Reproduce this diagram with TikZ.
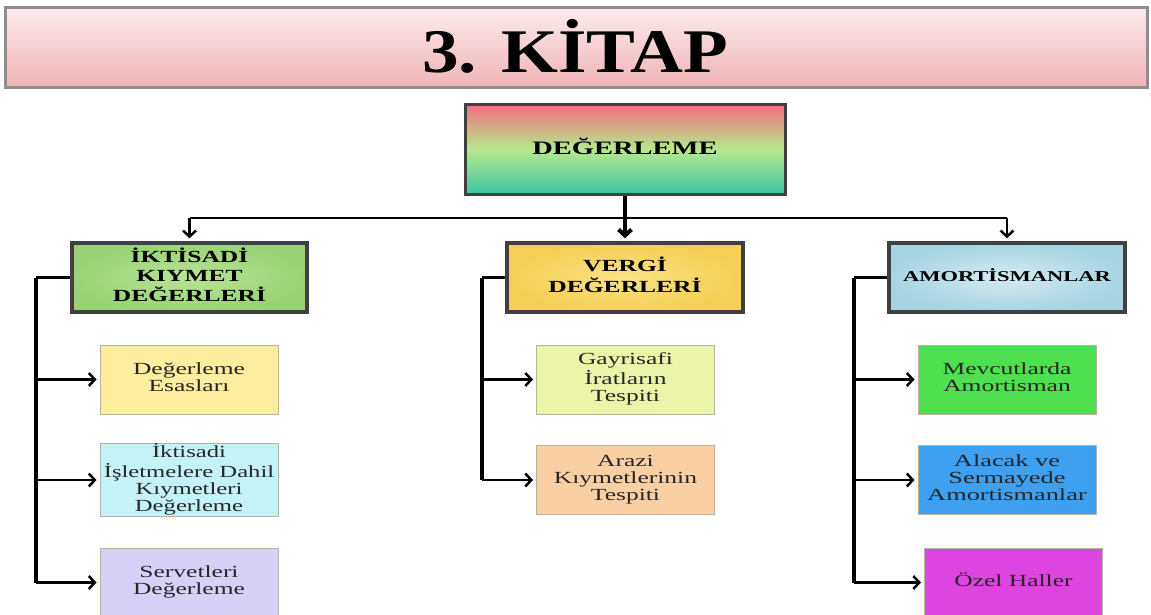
\documentclass[tikz,border=0pt]{standalone}
\usepackage{fontspec}
\usepackage{graphicx}
\setmainfont{Liberation Serif}
\usetikzlibrary{arrows.meta}
\newcommand\wide[2][1.5]{\scalebox{#1}[1]{\begin{tabular}{@{}c@{}}#2\end{tabular}}}
\definecolor{titletop}{HTML}{FDEAEC}
\definecolor{titlebot}{HTML}{EFB3B7}
\definecolor{titleline}{HTML}{8E8E8E}
\definecolor{degtop}{HTML}{F26E7E}
\definecolor{degmid}{HTML}{B6E98F}
\definecolor{degbot}{HTML}{3CC4A4}
\definecolor{iktin}{HTML}{B8E398}
\definecolor{iktout}{HTML}{98D474}
\definecolor{vergiin}{HTML}{FBE283}
\definecolor{vergiout}{HTML}{F5CF55}
\definecolor{amortin}{HTML}{D3ECF0}
\definecolor{amortout}{HTML}{A6D4E2}
\definecolor{kidline}{HTML}{B4B4A0}
\definecolor{esascol}{HTML}{FDED9E}
\definecolor{isletcol}{HTML}{C4F3F7}
\definecolor{servetcol}{HTML}{D8D1F7}
\definecolor{gayricol}{HTML}{EAF5A9}
\definecolor{arazicol}{HTML}{FBCFA4}
\definecolor{mevcutcol}{HTML}{4EE04E}
\definecolor{alacakcol}{HTML}{3DA0F0}
\definecolor{ozelcol}{HTML}{DD44E0}

\begin{document}
\begin{tikzpicture}[x=1pt,y=-1pt,
    kid/.style={draw=kidline, line width=1pt, inner sep=0pt, minimum width=178pt, minimum height=69pt,
      align=center, text=black!85, font=\fontsize{17}{17}\selectfont},
    head/.style={draw=black!75, line width=3.5pt, inner sep=0pt, minimum width=236pt, minimum height=69pt,
      align=center, font=\bfseries\fontsize{17}{18.5}\selectfont},
    conn/.style={line width=2.5pt, -{Straight Barb[length=6pt,width=13pt]}, shorten >=3pt},
    spine/.style={line width=4pt}]
  \useasboundingbox (0,0) rectangle (1151,615);
  \fill[white] (0,0) rectangle (1151,615);

  \node (titlebox) [draw=titleline, line width=3pt, top color=titletop, bottom color=titlebot,
    minimum width=1142pt, minimum height=80pt, inner sep=0pt] at (576,48) {};
  \node (title) [anchor=base, inner sep=0pt, font=\bfseries\fontsize{62}{62}\selectfont] at (575,73)
    {\scalebox{1.18}[1]{3. KİTAP}};

  \node (deg) [draw=black!75, line width=3pt, top color=degtop, bottom color=degbot, middle color=degmid,
    minimum width=320pt, minimum height=90pt, inner sep=0pt,
    font=\bfseries\fontsize{19}{20}\selectfont] at (625,149.5) {\wide{DEĞERLEME}};

  \node (ikt) [head, inner color=iktin, outer color=iktout, minimum width=235pt] at (189.5,277.5)
    {\wide{İKTİSADİ\\KIYMET\\DEĞERLERİ}};
  \node (vergi) [head, inner color=vergiin, outer color=vergiout] at (625,277.5) {\wide{VERGİ\\DEĞERLERİ}};
  \node (amort) [head, inner color=amortin, outer color=amortout,
    font=\bfseries\fontsize{15}{17}\selectfont] at (1007,277.5) {\wide{AMORTİSMANLAR}};

  \node (esas) [kid, fill=esascol] at (189,379.5) {\wide{Değerleme\\Esasları}};
  \node (islet) [kid, fill=isletcol] at (189,480) {\wide[1.45]{İktisadi\\İşletmelere Dahil\\Kıymetleri\\Değerleme}};
  \node (servet) [kid, fill=servetcol] at (189,582.5) {\wide{Servetleri\\Değerleme}};
  \node (gayri) [kid, fill=gayricol] at (625.5,379.5) {\wide{Gayrisafi\\İratların\\Tespiti}};
  \node (arazi) [kid, fill=arazicol] at (625.5,480) {\wide{Arazi\\Kıymetlerinin\\Tespiti}};
  \node (mevcut) [kid, fill=mevcutcol] at (1007,379.5) {\wide{Mevcutlarda\\Amortisman}};
  \node (alacak) [kid, fill=alacakcol] at (1007,480) {\wide[1.55]{Alacak ve\\Sermayede\\Amortismanlar}};
  \node (ozel) [kid, fill=ozelcol] at (1013.5,582.5) {\wide{Özel Haller}};

  \coordinate (bus) at (625,218);
  \coordinate (lsp) at (36,0);
  \coordinate (msp) at (482,0);
  \coordinate (rsp) at (854,0);

  \draw[line width=2.5pt] (bus -| ikt.north) -- (bus -| amort.north);
  \draw[conn, line width=4pt] (deg.south) -- (vergi.north);
  \draw[conn] (bus -| ikt.north) -- (ikt.north);
  \draw[conn] (bus -| amort.north) -- (amort.north);

  \draw[line width=3pt] (ikt.west) -- (ikt.west -| lsp);
  \draw[spine] (ikt.west -| lsp) -- (lsp |- servet.west);
  \draw[conn] (lsp |- esas.west) -- (esas.west);
  \draw[conn] (lsp |- islet.west) -- (islet.west);
  \draw[conn] (lsp |- servet.west) -- (servet.west);

  \draw[line width=3pt] (vergi.west) -- (vergi.west -| msp);
  \draw[spine] (vergi.west -| msp) -- (msp |- arazi.west);
  \draw[conn] (msp |- gayri.west) -- (gayri.west);
  \draw[conn] (msp |- arazi.west) -- (arazi.west);

  \draw[line width=3pt] (amort.west) -- (amort.west -| rsp);
  \draw[spine] (amort.west -| rsp) -- (rsp |- ozel.west);
  \draw[conn] (rsp |- mevcut.west) -- (mevcut.west);
  \draw[conn] (rsp |- alacak.west) -- (alacak.west);
  \draw[conn] (rsp |- ozel.west) -- (ozel.west);
\end{tikzpicture}
\end{document}
